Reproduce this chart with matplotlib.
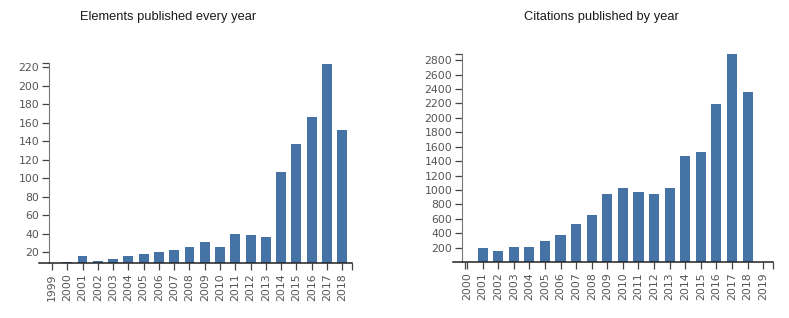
import matplotlib.pyplot as plt
import numpy as np

# data
element_years = list(range(1999, 2019))
element_counts = [8, 9.5, 16, 11, 12.5, 16, 18.5, 20, 22.5, 25.5, 30.5, 25.5,
                  40, 39, 36.5, 106.5, 137, 166.5, 223, 152]

citation_years = list(range(2001, 2019))
citation_counts = [191, 158, 205, 205, 288, 371, 528, 648, 947, 1030,
                   971, 947, 1030, 1470, 1525, 2199, 2887, 2356]
citation_ticks = list(range(2000, 2020))

bar_color = '#4673a5'
text_gray = '#555555'
axis_gray = '#444444'

fig = plt.figure(figsize=(7.89, 3.18), dpi=100)

def style_axis(ax, yaxis_at, xticks, yticks):
    ax.spines['top'].set_visible(False)
    ax.spines['right'].set_visible(False)
    ax.spines['left'].set_position(('data', yaxis_at))
    ax.spines['left'].set_color('#777777')
    ax.spines['bottom'].set_color('#222222')
    ax.spines['bottom'].set_linewidth(1.1)
    ax.set_xticks(xticks)
    ax.set_xticklabels([str(t) for t in xticks], rotation=90, fontsize=7.8,
                       color=text_gray, va='top', ha='center')
    ax.set_yticks(yticks)
    ax.set_yticklabels([str(t) for t in yticks], fontsize=7.8, color=text_gray)
    ax.tick_params(axis='both', length=5, width=0.9, color=axis_gray, pad=2)
    # outer ticks at the ends of the domain (d3 style)
    ax.set_xticks([yaxis_at + 0.2, ax.get_xlim()[1]], minor=True)
    ax.set_yticks([ax.get_ylim()[1]], minor=True)
    ax.tick_params(which='minor', length=5, width=0.9, color=axis_gray)

# left chart: elements per year
ax1 = fig.add_axes([0.0498, 0.172, 0.396, 0.629])
ax1.bar(element_years, element_counts, width=0.65, color=bar_color)
ax1.set_xlim(1998.17, 2018.62)
ax1.set_ylim(8, 224)
style_axis(ax1, 1998.8, element_years, list(range(20, 221, 20)))

# right chart: citations per year
ax2 = fig.add_axes([0.5745, 0.1755, 0.405, 0.6547])
ax2.bar(citation_years, citation_counts, width=0.65, color=bar_color)
ax2.set_xlim(1999.12, 2019.62)
ax2.set_ylim(0, 2885)
style_axis(ax2, 1999.68, citation_ticks, list(range(200, 2801, 200)))

fig.text(168 / 789, 1 - 17 / 318, 'Elements published every year', ha='center', va='center',
         fontsize=9.3, family='Liberation Sans', color='#1a1a1a')
fig.text(601 / 789, 1 - 17 / 318, 'Citations published by year', ha='center', va='center',
         fontsize=9.3, family='Liberation Sans', color='#1a1a1a')

plt.savefig('out.png', dpi=100)
